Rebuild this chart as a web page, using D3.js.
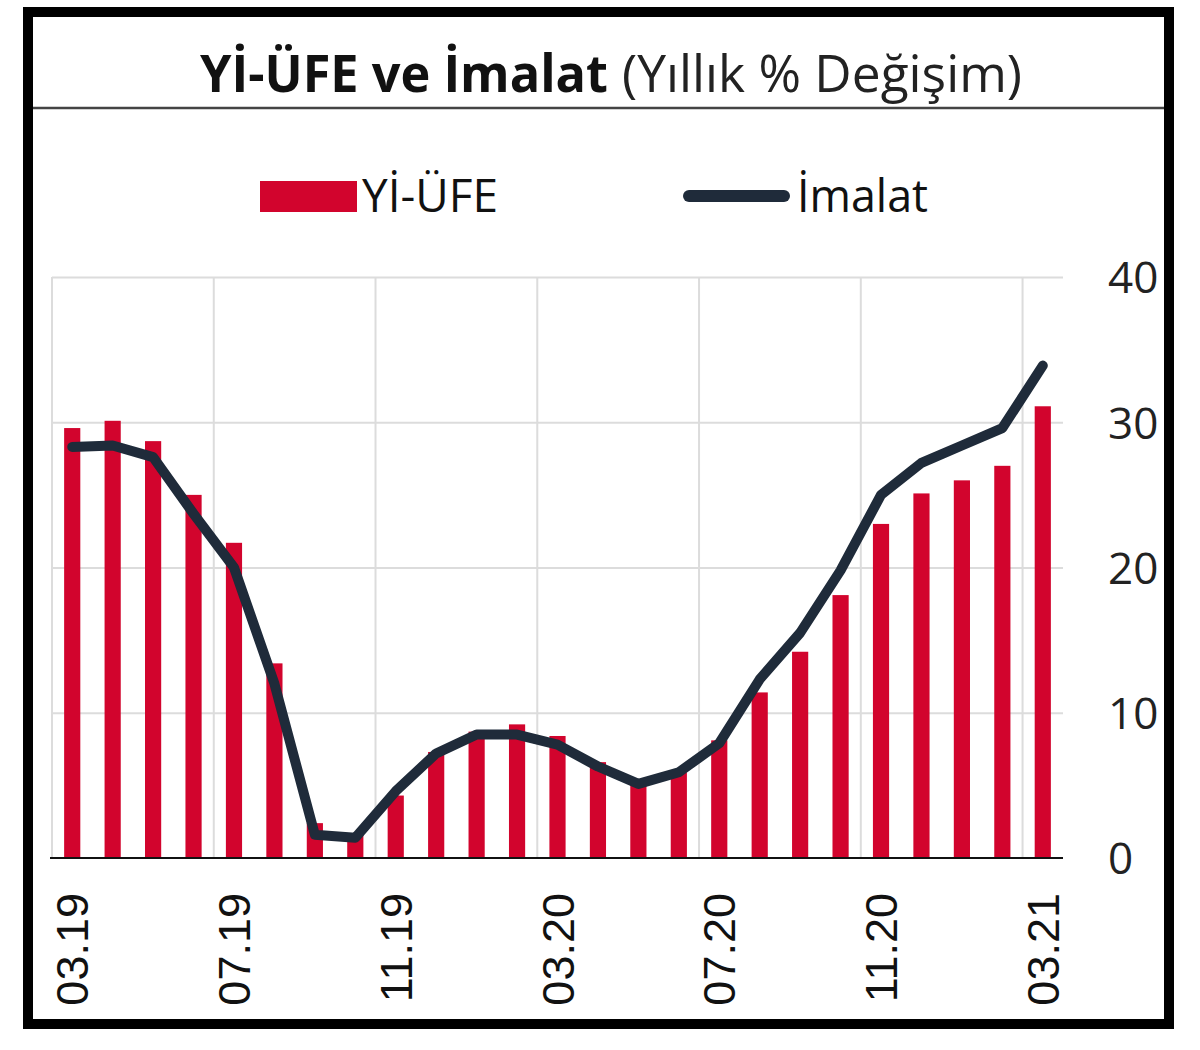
<!DOCTYPE html>
<html>
<head>
<meta charset="utf-8">
<script src="https://cdn.jsdelivr.net/npm/d3@7"></script>
<style>
  html, body { margin: 0; padding: 0; background: #fff; }
  svg { display: block; }
</style>
</head>
<body>
<div id="chart"></div>
<script>
// ---- Data ----
const categories = ["03.19","04.19","05.19","06.19","07.19","08.19","09.19","10.19","11.19","12.19",
  "01.20","02.20","03.20","04.20","05.20","06.20","07.20","08.20","09.20","10.20",
  "11.20","12.20","01.21","02.21","03.21"];
const yiUfe = [29.6, 30.1, 28.7, 25.0, 21.7, 13.4, 2.4, 1.6, 4.3, 7.3,
  8.7, 9.2, 8.4, 6.6, 5.3, 5.9, 8.1, 11.4, 14.2, 18.1,
  23.0, 25.1, 26.0, 27.0, 31.1];
const imalat = [28.3, 28.4, 27.6, 23.7, 20.0, 12.0, 1.6, 1.4, 4.6, 7.2,
  8.5, 8.5, 7.8, 6.3, 5.1, 5.9, 7.9, 12.3, 15.5, 19.8,
  25.0, 27.2, 28.4, 29.6, 33.9];
const xTickLabels = ["03.19","07.19","11.19","03.20","07.20","11.20","03.21"];
const yTicks = [0, 10, 20, 30, 40];
const titleBold = "Yİ-ÜFE ve İmalat";
const titleRegular = "(Yıllık % Değişim)";
const seriesNames = ["Yİ-ÜFE", "İmalat"];

// ---- Styles ----
const W = 1200, H = 1050;
const barColor = "#d2042d";
const lineColor = "#1f2b3a";
const gridColor = "#dcdcdc";

const svg = d3.select("#chart").append("svg").attr("width", W).attr("height", H);
svg.append("rect").attr("width", W).attr("height", H).attr("fill", "#fff");

const plotL = 52, plotR = 1063, plotT = 277, plotB = 858;

const x = d3.scaleBand().domain(categories).range([plotL, plotR]).paddingInner(0.6).paddingOuter(0.3);
const y = d3.scaleLinear().domain([0, 40]).range([plotB, plotT]);
const bw = x.bandwidth();
const step = x.step();

// horizontal gridlines
const gy = svg.append("g").attr("transform", `translate(${plotL},0)`)
  .call(d3.axisLeft(y).tickValues(yTicks.slice(1)).tickSize(-(plotR - plotL)).tickFormat(""));
gy.select(".domain").remove();
gy.selectAll(".tick line").attr("stroke", gridColor).attr("stroke-width", 2);

// vertical gridlines at band boundaries (every 4 months)
svg.append("g").selectAll("line")
  .data(xTickLabels)
  .join("line")
  .attr("x1", d => x(d) + bw / 2 - step / 2)
  .attr("x2", d => x(d) + bw / 2 - step / 2)
  .attr("y1", plotT).attr("y2", plotB)
  .attr("stroke", gridColor).attr("stroke-width", 2);

// bars
svg.append("g").selectAll("rect")
  .data(categories)
  .join("rect")
  .attr("x", d => x(d))
  .attr("width", bw)
  .attr("y", (d, i) => y(yiUfe[i]))
  .attr("height", (d, i) => y(0) - y(yiUfe[i]))
  .attr("fill", barColor);

// zero axis line
svg.append("line")
  .attr("x1", plotL - 2).attr("x2", plotR)
  .attr("y1", y(0)).attr("y2", y(0))
  .attr("stroke", "#111").attr("stroke-width", 2);

// line
const line = d3.line()
  .x((d, i) => x(categories[i]) + bw / 2)
  .y(d => y(d))
  .curve(d3.curveLinear);
svg.append("path")
  .datum(imalat)
  .attr("d", line)
  .attr("fill", "none")
  .attr("stroke", lineColor)
  .attr("stroke-width", 10)
  .attr("stroke-linecap", "round")
  .attr("stroke-linejoin", "round");

// x axis labels
const gx = svg.append("g").attr("transform", `translate(0,${plotB})`)
  .call(d3.axisBottom(x).tickValues(xTickLabels).tickSize(0).tickPadding(0));
gx.select(".domain").remove();
gx.selectAll(".tick text")
  .attr("font-family", "'Liberation Sans', Arial, sans-serif")
  .attr("font-size", 45)
  .attr("fill", "#111")
  .attr("text-anchor", "end")
  .attr("transform", "rotate(-90)")
  .attr("x", -35)
  .attr("y", 0)
  .attr("dy", "0.36em");

// y axis labels (right)
const gyr = svg.append("g").attr("transform", `translate(${plotR},0)`)
  .call(d3.axisRight(y).tickValues(yTicks).tickSize(0).tickPadding(45));
gyr.select(".domain").remove();
gyr.selectAll(".tick text")
  .attr("font-family", "'Open Sans', sans-serif")
  .attr("font-size", 44)
  .attr("fill", "#222")
  .attr("dy", "0.36em");

// title
svg.append("text")
  .attr("x", 200).attr("y", 92)
  .attr("font-family", "'Open Sans', sans-serif")
  .attr("font-weight", "bold")
  .attr("font-size", 52)
  .attr("fill", "#111")
  .attr("textLength", 408)
  .attr("lengthAdjust", "spacingAndGlyphs")
  .text(titleBold);
svg.append("text")
  .attr("x", 622).attr("y", 92)
  .attr("font-family", "'Open Sans', sans-serif")
  .attr("font-size", 52)
  .attr("fill", "#222")
  .attr("textLength", 400)
  .attr("lengthAdjust", "spacingAndGlyphs")
  .text(titleRegular);

// title separator
svg.append("line")
  .attr("x1", 28).attr("x2", 1170)
  .attr("y1", 108).attr("y2", 108)
  .attr("stroke", "#444").attr("stroke-width", 2.5);

// legend
svg.append("rect")
  .attr("x", 260).attr("y", 181).attr("width", 97).attr("height", 31)
  .attr("fill", barColor);
svg.append("text")
  .attr("x", 362).attr("y", 212)
  .attr("font-family", "'Open Sans', sans-serif")
  .attr("font-size", 46)
  .attr("fill", "#111")
  .attr("textLength", 136)
  .attr("lengthAdjust", "spacingAndGlyphs")
  .text(seriesNames[0]);
svg.append("line")
  .attr("x1", 689).attr("x2", 784)
  .attr("y1", 196).attr("y2", 196)
  .attr("stroke", lineColor).attr("stroke-width", 12)
  .attr("stroke-linecap", "round");
svg.append("text")
  .attr("x", 797).attr("y", 212)
  .attr("font-family", "'Open Sans', sans-serif")
  .attr("font-size", 46)
  .attr("fill", "#111")
  .attr("textLength", 131)
  .attr("lengthAdjust", "spacingAndGlyphs")
  .text(seriesNames[1]);

// outer frame
svg.append("rect")
  .attr("x", 28).attr("y", 12)
  .attr("width", 1141).attr("height", 1012)
  .attr("fill", "none")
  .attr("stroke", "#000").attr("stroke-width", 10);
</script>
</body>
</html>
